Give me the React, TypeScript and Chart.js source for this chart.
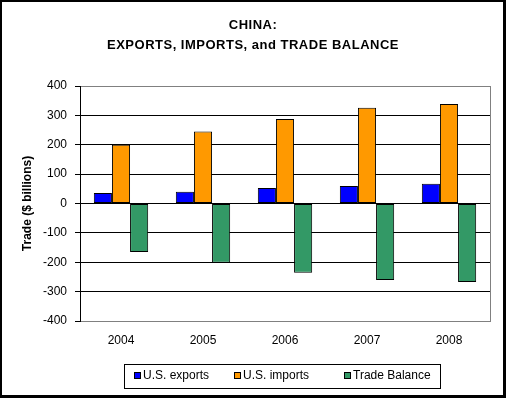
import React, { useEffect, useRef } from "react";
import { Chart, registerables } from "chart.js";

Chart.register(...registerables);

const years = ["2004", "2005", "2006", "2007", "2008"];
const usExports = [36, 40, 53, 60, 67];
const usImports = [200, 245, 288, 326, 339];
const tradeBalance = [-165, -202, -236, -260, -267];
const seriesLabels = ["U.S. exports", "U.S. imports", "Trade Balance"];
const seriesColors = ["#0000FF", "#FF9900", "#339966"];
const titleLines = ["CHINA:", "EXPORTS, IMPORTS, and TRADE BALANCE"];
const yAxisTitle = "Trade ($ billions)";
const yMin = -400;
const yMax = 400;
const yStep = 100;

const FONT = "'Liberation Sans', Arial, Helvetica, sans-serif";

const decorPlugin = {
  id: "decor",
  beforeDatasetsDraw(chart: any) {
    const { ctx, chartArea: a } = chart;
    ctx.save();
    ctx.strokeStyle = "#808080";
    ctx.lineWidth = 1;
    ctx.beginPath();
    const rx = Math.round(a.right) + 0.5;
    ctx.moveTo(rx, Math.round(a.top));
    ctx.lineTo(rx, Math.round(a.bottom) + 1);
    ctx.stroke();
    ctx.restore();
  },
  afterDraw(chart: any) {
    const { ctx, chartArea: a, width, height } = chart;
    ctx.save();
    // Title
    ctx.fillStyle = "#000";
    ctx.font = `bold 13px ${FONT}`;
    ctx.textAlign = "center";
    ctx.textBaseline = "middle";
    try { (ctx as any).letterSpacing = "0.5px"; } catch (e) {}
    ctx.fillText(titleLines[0], width / 2, 25);
    ctx.fillText(titleLines[1], width / 2, 45.5);
    try { (ctx as any).letterSpacing = "0px"; } catch (e) {}
    // Y axis title
    ctx.save();
    ctx.translate(28, (a.top + a.bottom) / 2);
    ctx.rotate(-Math.PI / 2);
    ctx.font = `bold 12px ${FONT}`;
    ctx.textAlign = "center";
    ctx.textBaseline = "middle";
    ctx.fillText(yAxisTitle, 0, 0);
    ctx.restore();
    // Legend
    ctx.strokeStyle = "#000";
    ctx.lineWidth = 1;
    ctx.strokeRect(124.5, 364.5, 316, 24);
    const xs = [134, 234, 344];
    ctx.font = `12px ${FONT}`;
    ctx.textAlign = "left";
    ctx.textBaseline = "middle";
    chart.data.datasets.forEach((ds: any, i: number) => {
      const x = xs[i];
      ctx.fillStyle = ds.backgroundColor;
      ctx.fillRect(x, 372, 7, 7);
      ctx.strokeStyle = "#000";
      ctx.strokeRect(x + 0.5, 372.5, 6, 6);
      ctx.fillStyle = "#000";
      ctx.fillText(ds.label, x + 9, 376);
    });
    // Outer border
    ctx.fillStyle = "#000";
    ctx.fillRect(0, 0, width, 2);
    ctx.fillRect(0, 0, 2, height);
    ctx.fillRect(width - 3, 0, 3, height);
    ctx.fillRect(0, height - 3, width, 3);
    ctx.restore();
  },
};

export default function App() {
  const ref = useRef<HTMLCanvasElement | null>(null);
  useEffect(() => {
    document.body.style.margin = "0";
    if (!ref.current) return;
    const seriesData = [usExports, usImports, tradeBalance];
    const chart = new Chart(ref.current, {
      type: "bar",
      data: {
        labels: years,
        datasets: seriesLabels.map((label, i) => ({
          label,
          data: seriesData[i],
          backgroundColor: seriesColors[i],
          borderColor: "#000",
          borderWidth: 1,
          borderSkipped: false,
          barPercentage: 1,
          categoryPercentage: 0.663,
        })),
      },
      options: {
        responsive: false,
        animation: false,
        devicePixelRatio: 1,
        layout: { padding: { top: 86, right: 16, left: 0, bottom: 0 } },
        plugins: {
          legend: { display: false },
          title: { display: false },
          tooltip: { enabled: false },
        },
        scales: {
          x: {
            grid: { display: false },
            border: { display: true, color: "#808080", width: 1 },
            ticks: { color: "#000", font: { family: FONT, size: 12 }, padding: 4, maxRotation: 0 },
            afterFit: (s: any) => { s.height = 77; },
          },
          y: {
            min: yMin,
            max: yMax,
            ticks: {
              stepSize: yStep,
              color: "#000",
              padding: 8,
              font: { family: FONT, size: 12 },
            },
            grid: {
              color: (c: any) => (c.tick && (c.tick.value === yMin || c.tick.value === yMax) ? "#808080" : "#000"),
              tickColor: "#000",
              tickLength: 5,
              lineWidth: 1,
            },
            border: { display: true, color: "#000", width: 1 },
            afterFit: (s: any) => { s.width = 80; },
          },
        },
      },
      plugins: [decorPlugin],
    });
    return () => chart.destroy();
  }, []);
  return (
    <div style={{ width: 506, height: 398 }}>
      <canvas ref={ref} width={506} height={398} style={{ display: "block" }} />
    </div>
  );
}
